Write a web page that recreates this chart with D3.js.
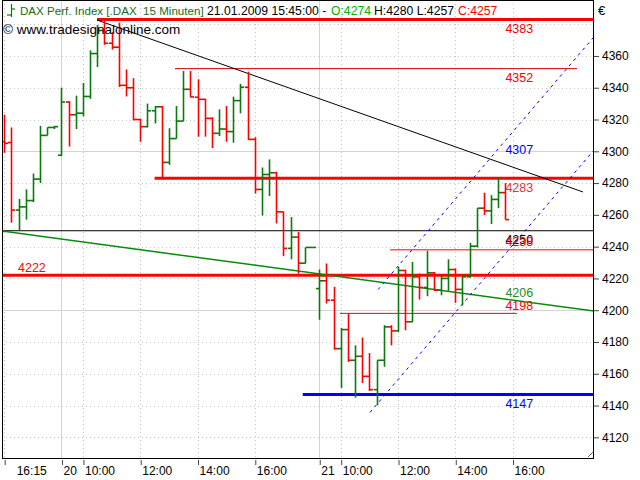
<!DOCTYPE html>
<html><head><meta charset="utf-8">
<script src="https://cdn.jsdelivr.net/npm/d3@7"></script>
<style>
html,body{margin:0;padding:0;background:#fff;}
svg{display:block;font-family:"Liberation Sans",Arial,sans-serif;}
</style></head>
<body>
<svg id="chart" width="640" height="480"></svg>
<script>
// ---- data (15-minute OHLC bars, 19.01.2009 16:15 .. 21.01.2009 15:45) ----
const opens  = [4306,4305.5,4263,4265,4269,4282.5,4310,4315,4297.5,4331,4323,4324,4334.5,4361.5,4376,4368,4365.5,4341.5,4340,4320,4315.5,4325.5,4328,4293,4308,4319,4339,4334,4332.7,4320.7,4311.3,4314,4312.4,4331.9,4340.3,4307.5,4276,4285.4,4286.5,4261.9,4238.9,4246,4229.6,4239.5,4213.6,4218.5,4206.3,4175.8,4187.8,4168.5,4171,4158.4,4150,4168.5,4189.5,4187,4225,4192.7,4221,4214.3,4223.5,4212.6,4220,4225.6,4213.1,4221,4240.3,4264.2,4262.5,4269.7,4274];
const highs  = [4323,4315,4270,4276,4286,4316,4315,4316,4340,4331.5,4335,4343,4363.5,4379.5,4382,4375,4381,4351.5,4346,4320.5,4330,4328.5,4328.5,4314.5,4328.5,4350.5,4350.5,4345.3,4333,4321.4,4326.4,4328.5,4334.4,4342.4,4350.1,4308.8,4289.8,4294.9,4287.1,4262,4258.6,4249.3,4239.5,4239.7,4225.6,4229.4,4214.7,4188.9,4197.9,4177.9,4182.8,4173.1,4168.5,4190.6,4190.6,4227.3,4225.5,4230.4,4223.1,4237.4,4224,4221.4,4232,4226.3,4221.4,4242.4,4264.2,4273.9,4272.4,4283.6,4280];
const lows   = [4299,4255,4250,4257,4268,4280,4310,4314,4297,4303,4314,4322,4333,4353,4367,4364,4340.5,4334.5,4319.5,4306,4315,4317.5,4282.5,4291.5,4308,4319,4334,4309.2,4309.2,4302,4309.6,4306,4305.4,4323.9,4307.1,4273.4,4259.6,4271.8,4254.6,4234,4232,4223,4229.4,4239.3,4194,4204.2,4175.2,4151.1,4167.5,4145,4154.2,4149.2,4140.2,4164.4,4177.9,4186.4,4187.4,4192.5,4206.7,4208.8,4212.2,4209.4,4212.2,4204.6,4203,4220.6,4239.5,4259.8,4254.2,4264.2,4257];
const closes = [4305,4263,4265,4269,4282.5,4310,4315,4315.5,4331,4323,4324,4334.5,4361.5,4376,4368,4365.5,4341.5,4340,4320,4315.5,4325.5,4328,4293,4308,4319,4339,4334.2,4332.7,4320.7,4311.3,4314,4312.4,4331.9,4340.3,4307.5,4276,4285.4,4286.5,4261.9,4238.9,4246,4229.6,4239.5,4239.5,4218.5,4206.3,4175.8,4187.8,4168.5,4171,4158.4,4150,4168.5,4189.5,4187,4225,4192.7,4221,4214.3,4223.5,4212.6,4220,4225.6,4213.1,4221,4240.3,4264.2,4262.5,4269.7,4274,4257];

// time axis: bar index of each labelled tick, its label, and which ticks start a day
const tickIndex  = [0, 8, 11, 19, 27, 35, 44, 47, 55, 63, 71];
const tickLabels = ["16:15","20","10:00","12:00","14:00","16:00","21","10:00","12:00","14:00","16:00"];
const dayStartTicks = [8, 44];

// price axis ticks
const priceTicks = [4120,4140,4160,4180,4200,4220,4240,4260,4280,4300,4320,4340,4360];
const gridPrices = [4120,4140,4160,4180,4200,4220,4240,4260,4280,4300,4320,4340,4360,4380];

// horizontal levels (price, first bar index, last bar index)
const levelPrices = [4383, 4352, 4283, 4250, 4238, 4222, 4198, 4147];
const levelFrom   = [12.96, 23.85, 21.0, -1, 53.9, -1, 46.9, 41.7];
const levelTo     = [83, 80.0, 83, 83, 83, 83, 71.6, 83];

// trend lines [index0, price0, index1, price1]
const trendBlack = [12.96, 4382.6, 80.84, 4274.4];
const trendGreen = [-0.31, 4249.8, 82.37, 4199.5];
const channelUp  = [52.21, 4213.0, 82.37, 4372.0];
const channelLow = [51.09, 4135.7, 82.37, 4300.8];

// value labels on the right
const valueLabels = ["4383","4352","4307","4283","4250","4238","4206","4198","4147"];
const valuePrices = [4383, 4352, 4307, 4283, 4250, 4238, 4206, 4198, 4147];
const leftLabel = "4222", leftLabelPrice = 4222;

const headerTitle = "DAX Perf. Index [.DAX  15 Minuten]";
const headerParts = ["21.01.2009 15:45:00 -", "O:4274", "H:4280 L:4257", "C:4257"];

// ---- drawing ----
const svg = d3.select("#chart");
const plot = {l: 2, r: 594, t: 0, b: 458};

const x = d3.scaleLinear().domain([0, 70]).range([4.2, 505.4]);
const y = d3.scaleLinear().domain([4107, 4395.2]).range([458, 0]);

const RED = "#ff0000", GREEN = "#0a7a0a", BLUE = "#0000ff";

svg.append("defs").append("clipPath").attr("id","clip")
  .append("rect").attr("x",plot.l).attr("y",plot.t).attr("width",plot.r-plot.l).attr("height",plot.b-plot.t);

const g = svg.append("g").attr("clip-path","url(#clip)");

// grid horizontal
g.selectAll(".hg").data(gridPrices).enter().append("line")
  .attr("x1",plot.l).attr("x2",plot.r)
  .attr("y1",d=>Math.round(y(d))+0.5).attr("y2",d=>Math.round(y(d))+0.5)
  .attr("stroke", d=> d%100===0 ? "#d4d4d4" : "#c4c4c4")
  .attr("stroke-dasharray", d=> d%100===0 ? null : "1,3")
  .attr("stroke-width",1);
// grid vertical
g.selectAll(".vg").data(tickIndex).enter().append("line")
  .attr("x1",d=>Math.round(x(d))+0.5).attr("x2",d=>Math.round(x(d))+0.5)
  .attr("y1",plot.t).attr("y2",plot.b)
  .attr("stroke", d=> dayStartTicks.includes(d) ? "#d4d4d4" : "#c4c4c4")
  .attr("stroke-dasharray", d=> dayStartTicks.includes(d) ? null : "1,3");

// level lines
const levelStyle = [
  {c:RED,w:3},{c:"#d00000",w:1},{c:RED,w:3},{c:"#000",w:1},{c:RED,w:1},{c:RED,w:3},{c:RED,w:1},{c:BLUE,w:3}
];
g.selectAll(".lvl").data(levelPrices).enter().append("line")
  .attr("x1",(d,i)=>x(levelFrom[i])).attr("x2",(d,i)=>x(levelTo[i]))
  .attr("y1",d=>y(d)).attr("y2",d=>y(d))
  .attr("stroke",(d,i)=>levelStyle[i].c).attr("stroke-width",(d,i)=>levelStyle[i].w);

// trend lines
function seg(a, color, w, dash){
  g.append("line").attr("x1",x(a[0])).attr("y1",y(a[1])).attr("x2",x(a[2])).attr("y2",y(a[3]))
   .attr("stroke",color).attr("stroke-width",w).attr("stroke-dasharray",dash||null);
}
seg(trendGreen, "#0a8a0a", 1.5);
seg(trendBlack, "#000", 1);
seg(channelUp, BLUE, 1, "3,4");
seg(channelLow, BLUE, 1, "3,4");

// bars
const bars = opens.map((o,i)=>({i, o, h:highs[i], l:lows[i], c:closes[i]}));
const half = 3.6;
const bg = g.selectAll(".bar").data(bars).enter().append("g")
  .attr("stroke", d=> d.c >= d.o ? GREEN : RED);
bg.append("line").attr("x1",d=>Math.round(x(d.i))+0.5).attr("x2",d=>Math.round(x(d.i))+0.5)
  .attr("y1",d=>y(d.h)).attr("y2",d=>y(d.l)).attr("stroke-width",1.6);
bg.append("line").attr("x1",d=>Math.round(x(d.i))-half+0.5).attr("x2",d=>Math.round(x(d.i))+0.5)
  .attr("y1",d=>y(d.o)).attr("y2",d=>y(d.o)).attr("stroke-width",1.6);
bg.append("line").attr("x1",d=>Math.round(x(d.i))+0.5).attr("x2",d=>Math.round(x(d.i))+half+0.5)
  .attr("y1",d=>y(d.c)).attr("y2",d=>y(d.c)).attr("stroke-width",1.6);

// value labels
const labelColor = [RED, RED, BLUE, "#e8303c", "#000", RED, "#2a8a2a", RED, BLUE];
const labelAbove = [false,false,false,false,false,true,true,true,false];
svg.selectAll(".vl").data(valueLabels).enter().append("text")
  .attr("x", x(70)).attr("y",(d,i)=> y(valuePrices[i]) + (labelAbove[i] ? -3.5 : 13.5))
  .attr("fill",(d,i)=>labelColor[i]).attr("font-size","12.5px").text(d=>d);
svg.append("text").attr("x",18).attr("y",y(leftLabelPrice)-3.5).attr("fill",RED)
  .attr("font-size","12.5px").text(leftLabel);

// frame
svg.append("rect").attr("x",plot.l+0.5).attr("y",plot.t+0.5).attr("width",plot.r-plot.l-1).attr("height",plot.b-plot.t)
  .attr("fill","none").attr("stroke","#000");

// right axis
const ya = d3.axisRight(y).tickValues(priceTicks).tickSize(5).tickPadding(3).tickFormat(d3.format("d"));
const yg = svg.append("g").attr("transform",`translate(${plot.r},0)`).call(ya);
yg.select(".domain").remove();
yg.selectAll("text").attr("font-size","12px").attr("fill","#000").attr("font-family","Liberation Sans, Arial, sans-serif");
yg.selectAll("line").attr("stroke","#444");

// bottom axis
const xa = d3.axisBottom(x).tickValues(tickIndex).tickSize(5).tickFormat((d,i)=>tickLabels[i]);
const xg = svg.append("g").attr("transform",`translate(0,${plot.b+2})`).call(xa);
xg.select(".domain").remove();
xg.selectAll(".tick line").attr("transform","translate(0.5,0)").attr("stroke","#444");
xg.selectAll(".tick text").attr("text-anchor","start").attr("dx",(d,i)=> i===0 ? 12 : 1.5).attr("dy","0.6em")
  .attr("font-size","12px").attr("fill","#000").attr("font-family","Liberation Sans, Arial, sans-serif");

// resize grip
svg.append("path").attr("d",`M${plot.r-6},${plot.b-1} L${plot.r-1},${plot.b-6}`).attr("stroke","#666");

// euro sign
svg.append("text").attr("x",598).attr("y",15).attr("font-size","13px").attr("fill","#000").text("€");

// header
const hg = svg.append("g");
hg.append("line").attr("x1",11.5).attr("x2",11.5).attr("y1",4).attr("y2",17).attr("stroke","#0a7a0a").attr("stroke-width",1.2);
hg.append("line").attr("x1",7).attr("x2",11.5).attr("y1",15).attr("y2",15).attr("stroke","#0a7a0a").attr("stroke-width",1.2);
hg.append("line").attr("x1",11.5).attr("x2",15).attr("y1",9).attr("y2",9).attr("stroke","#0a7a0a").attr("stroke-width",1.2);
hg.append("text").attr("x",20).attr("y",15).attr("font-size","11.6px").attr("fill","#1a6a1a")
  .style("white-space","pre").text(headerTitle);
const partX = [207, 331, 374, 458];
const partC = ["#000", "#00b000", "#000", RED];
headerParts.forEach((t,i)=>{
  hg.append("text").attr("x",partX[i]).attr("y",15).attr("font-size","12.2px").attr("fill",partC[i])
    .style("white-space","pre").text(t);
});
svg.append("text").attr("x",3).attr("y",34).attr("font-size","13.5px").attr("fill","#000")
  .text("© www.tradesignalonline.com");
</script>
</body></html>
